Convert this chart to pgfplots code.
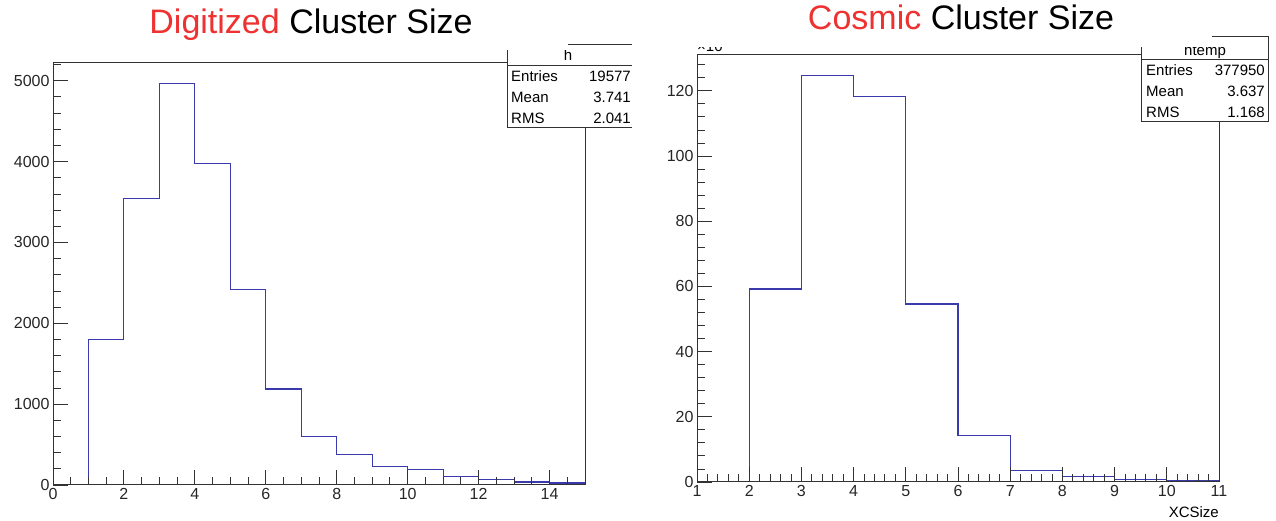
\documentclass[border=0pt]{standalone}
\usepackage{pgfplots}
\pgfplotsset{compat=1.18}
\usepackage{pgfplotstable}
\usepackage{fontspec}
\setmainfont{Liberation Sans}

\definecolor{histblue}{RGB}{58,58,172}
\definecolor{titlered}{RGB}{238,50,50}
\definecolor{axisgray}{RGB}{50,50,50}

% one row per bin: lower bin edge, bin content (last row closes the final bin)
\pgfplotstableread{
x   y
0   0
1   1803
2   3540
3   4971
4   3977
5   2413
6   1188
7   602
8   375
9   227
10  194
11  107
12  66
13  37
14  25
15  25
}\digitized
% contents in units of 10^3 entries
\pgfplotstableread{
x   y
1   0
2   59.2
3   124.8
4   118.3
5   54.6
6   14.3
7   3.6
8   1.6
9   0.9
10  0.3
11  0.3
}\cosmic

\pgfplotsset{
  roothist/.style={
    scale only axis,
    axis line style={axisgray, line width=1pt},
    tick style={axisgray, line width=0.9pt},
    tick align=inside,
    xtick pos=left, ytick pos=left,
    major tick length=15pt, minor tick length=8pt,
    ticklabel style={font=\fontsize{16}{19}\selectfont, text=black!85},
    /pgf/number format/assume math mode=true,
    /pgf/number format/1000 sep={},
    scaled ticks=false,
    axis on top,
  },
}
\tikzset{statfont/.style={font=\fontsize{15}{18}\selectfont, inner sep=0pt}}

\begin{document}
\begin{tikzpicture}[x=1pt, y=1pt]
\useasboundingbox (0pt,0pt) rectangle (1276pt,521pt);

% ---- Digitized cluster size ----
\begin{axis}[roothist,
  at={(53pt,36pt)}, anchor=south west,
  width=532pt, height=422pt,
  xmin=0, xmax=15, ymin=0, ymax=5220,
  xtick={0,2,...,14},
  minor xtick={0,0.5,...,15},
  ytick={0,1000,...,5000},
  minor ytick={0,200,...,5200},
]
\addplot[const plot, histblue, line width=1.1pt] table[x=x, y=y] {\digitized};
\end{axis}

% ---- Cosmic cluster size ----
\begin{axis}[roothist,
  at={(697pt,39pt)}, anchor=south west,
  width=522pt, height=427pt,
  xmin=1, xmax=11, ymin=0, ymax=131,
  xtick={1,...,11},
  minor xtick={1,1.2,...,11.05},
  ytick={0,20,...,120},
  minor ytick={0,4,...,128},
]
\addplot[const plot, histblue, line width=1.1pt] table[x=x, y=y] {\cosmic};
\end{axis}

\node[statfont, anchor=east] at (1219pt,9pt) {XCSize};
\node[statfont, anchor=base west] at (697pt,469pt) {×10\textsuperscript{3}};

% ---- statistics boxes ----
% left box, cut at the panel edge
\fill[white] (507pt,476pt) rectangle (632pt,393pt);
\draw[axisgray, line width=1pt] (632pt,476pt) -- (507pt,476pt) -- (507pt,393pt) -- (632pt,393pt);
\draw[axisgray, line width=1pt] (507pt,455pt) -- (632pt,455pt);
\node[statfont, anchor=base] at (568pt,460pt) {h};
\node[statfont, anchor=base west] at (511pt,439.5pt) {Entries};
\node[statfont, anchor=base east] at (631pt,439.5pt) {19577};
\node[statfont, anchor=base west] at (511pt,418.5pt) {Mean};
\node[statfont, anchor=base east] at (631pt,418.5pt) {3.741};
\node[statfont, anchor=base west] at (511pt,397.5pt) {RMS};
\node[statfont, anchor=base east] at (631pt,397.5pt) {2.041};

% right box
\filldraw[fill=white, draw=axisgray, line width=1pt] (1141pt,484pt) rectangle (1268pt,399pt);
\draw[axisgray, line width=1pt] (1141pt,461pt) -- (1268pt,461pt);
\node[statfont, anchor=base] at (1205pt,465pt) {htemp};
\node[statfont, anchor=base west] at (1146pt,445.5pt) {Entries};
\node[statfont, anchor=base east] at (1265pt,445.5pt) {377950};
\node[statfont, anchor=base west] at (1146pt,424.5pt) {Mean};
\node[statfont, anchor=base east] at (1265pt,424.5pt) {3.637};
\node[statfont, anchor=base west] at (1146pt,403.5pt) {RMS};
\node[statfont, anchor=base east] at (1265pt,403.5pt) {1.168};

% ---- title banners ----
\fill[white] (130pt,521pt) rectangle (568pt,471pt);
\fill[white] (690pt,521pt) rectangle (1212pt,474pt);
\node[font=\fontsize{34}{40}\selectfont, anchor=base, inner sep=0pt] at (311pt,487pt)
  {\textcolor{titlered}{Digitized} Cluster Size};
\node[font=\fontsize{34}{40}\selectfont, anchor=base, inner sep=0pt] at (961pt,491pt)
  {\textcolor{titlered}{Cosmic} Cluster Size};
\end{tikzpicture}
\end{document}
